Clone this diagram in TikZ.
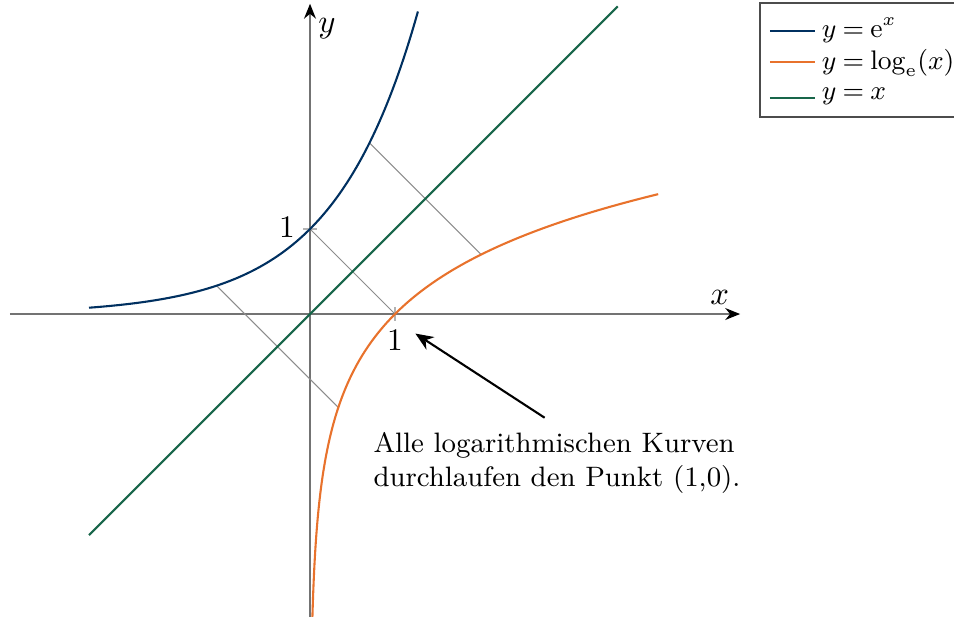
\documentclass[tikz,border=0pt]{standalone}
\usepackage{amsmath}
\usepackage{tikz}
\usetikzlibrary{arrows.meta,positioning}
\definecolor{expblue} {RGB}{0, 48, 96}
\definecolor{logorange}{RGB}{232,114, 44}
\definecolor{idgreen} {RGB}{24,102, 74}
\newcommand\legfont{\fontsize{9.2}{11}\selectfont\thickmuskip=4mu plus 2mu\relax}
\tikzset{
  axis/.style={draw=black!55,line width=0.5pt,
               -{Stealth[length=5pt,width=4pt,color=black]}},
  curve/.style={line width=0.7pt},
  expcurve/.style={curve,draw=expblue},
  logcurve/.style={curve,draw=logorange},
  idline/.style={curve,draw=idgreen},
  mirror/.style={draw=black!45,line width=0.35pt},
  tickmark/.style={draw=black!30,line width=0.5pt},
  lbl/.style={font=\fontsize{10.5}{12}\selectfont,inner sep=1pt},
  leg/.style={font=\legfont,inner sep=1pt,anchor=west},
  note/.style={font=\fontsize{9.4}{11.4}\selectfont,align=left,inner sep=0pt},
  legbox/.style={draw=black!70,line width=0.5pt},
}

\begin{document}
\begin{tikzpicture}
  \useasboundingbox (-3.647,-3.553) rectangle (7.576,3.694);
  % axes
  \draw[axis] (-3.53,0) -- (5.06,0);
  \draw[axis] (0,-3.6) -- (0,3.65);
  \node[lbl] (xlab) at (4.82,0.2) {$x$};
  \node[lbl] (ylab) at (0.2,3.36) {$y$};
  \draw[tickmark] (-0.08,1) -- (0.08,1);
  \draw[tickmark] (1,-0.08) -- (1,0.08);
  \node[lbl] (one-y) at (-0.27,1.02) {1};
  \node[lbl] (one-x) at (1.0,-0.31) {1};
  % mirror lines
  \foreach \a in {-1.1,0,0.7}
    \draw[mirror] (\a,{exp(\a)}) -- ({exp(\a)},\a);
  % curves
  \draw[idline] (-2.6,-2.6) -- (3.62,3.62);
  \draw[expcurve] plot[domain=-2.6:1.27,samples=120,smooth] (\x,{exp(\x)});
  \draw[logcurve] plot[domain=-3.6:1.41,samples=160,smooth,variable=\t] ({exp(\t)},\t);
  % annotation
  \node[note,anchor=north west] (hint) at (0.74,-1.38)
    {Alle logarithmischen Kurven\\durchlaufen den Punkt (1,0).};
  \coordinate (hint-tail) at (2.76,-1.22);
  \coordinate (point) at (1.24,-0.23);
  \draw[-{Stealth[length=6pt,width=5pt]},line width=0.7pt] (hint-tail) -- (point);
  % legend
  \draw[legbox] (5.294,3.659) rectangle (7.9,2.318);
  \node[leg] (leg-exp) at (5.98,3.34) {$y=\mathrm{e}^x$};
  \node[leg] (leg-log) at (5.98,2.95) {$y=\log_{\mathrm{e}}(x)$};
  \node[leg] (leg-id)  at (5.98,2.56) {$y=x$};
  \draw[expcurve] (5.41,3.33) -- (5.94,3.33);
  \draw[logcurve] (5.41,2.965) -- (5.94,2.965);
  \draw[idline]   (5.41,2.54) -- (5.94,2.54);
\end{tikzpicture}
\end{document}
